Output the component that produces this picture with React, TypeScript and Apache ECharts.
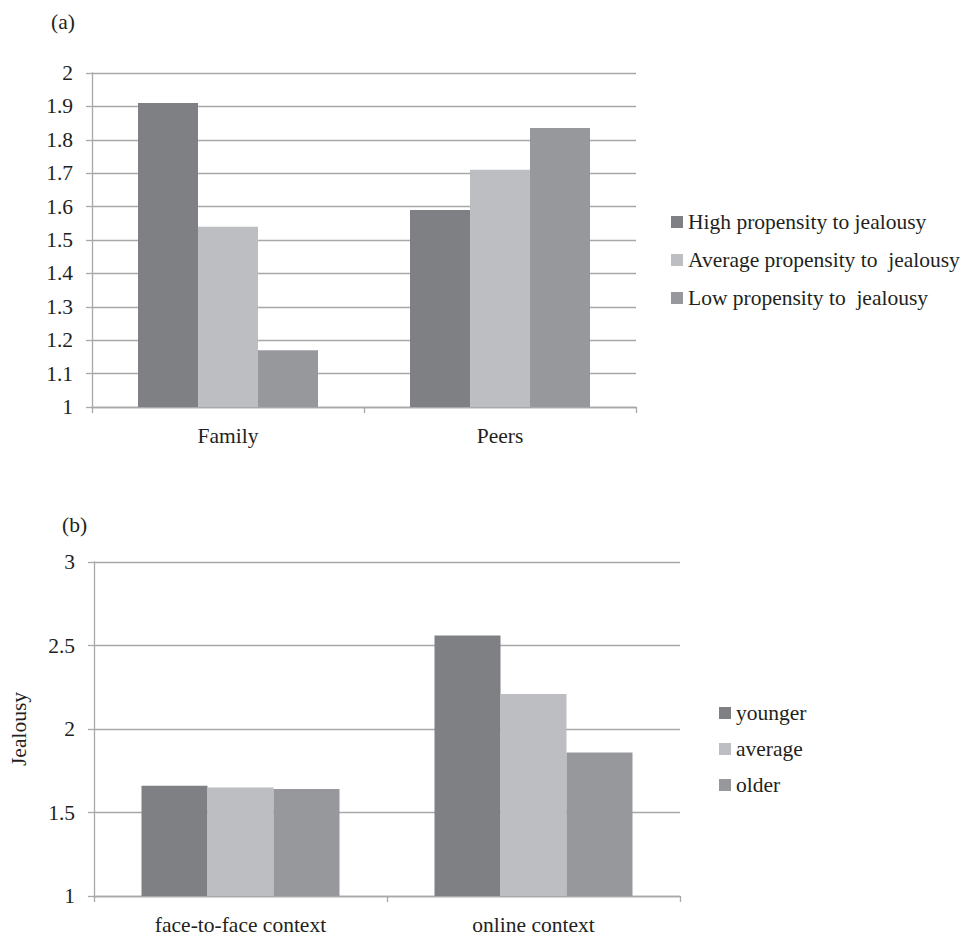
import React, { useEffect, useRef } from "react";
import * as echarts from "echarts";

const catsA = ["Family", "Peers"];
const seriesNamesA = [
  "High propensity to jealousy",
  "Average propensity to  jealousy",
  "Low propensity to  jealousy",
];
const highA = [1.91, 1.59];
const avgA = [1.54, 1.71];
const lowA = [1.17, 1.835];

const catsB = ["face-to-face context", "online context"];
const seriesNamesB = ["younger", "average", "older"];
const youngerB = [1.66, 2.56];
const averageB = [1.65, 2.21];
const olderB = [1.64, 1.86];

const colors = ["#7f8084", "#bdbec2", "#97989c"];
const FONT = "'Liberation Serif', 'Times New Roman', 'DejaVu Serif', serif";
const TXT = "#231f20";
const GRIDC = "#a8a8a8";

export default function App() {
  const ref = useRef<HTMLDivElement>(null);
  useEffect(() => {
    if (!ref.current) return;
    const chart = echarts.init(ref.current, null, { renderer: "svg" });
    const textStyle = { fontFamily: FONT, fontSize: 21.5, color: TXT };
    const fmt = (v: number) => String(Number(v.toFixed(2)));
    const yCommon = {
      type: "value" as const,
      axisLine: { show: true, lineStyle: { color: GRIDC, width: 1.3 } },
      axisTick: { show: true, length: 6, lineStyle: { color: GRIDC, width: 1.3 } },
      splitLine: { show: true, lineStyle: { color: GRIDC, width: 1.3 } },
      axisLabel: { ...textStyle, margin: 19, formatter: fmt },
    };
    const xCommon = {
      type: "category" as const,
      axisLine: { show: true, lineStyle: { color: GRIDC, width: 1.3 } },
      axisTick: { show: true, length: 6, alignWithLabel: false, lineStyle: { color: GRIDC, width: 1.3 } },
      axisLabel: { ...textStyle, margin: 18 },
      splitLine: { show: false },
    };
    const valsA = [highA, avgA, lowA];
    const valsB = [youngerB, averageB, olderB];
    chart.setOption({
      animation: false,
      backgroundColor: "#ffffff",
      textStyle: { fontFamily: FONT },
      title: [
        { text: "(a)", left: 46, top: 6, textStyle: { ...textStyle, fontWeight: "normal" } },
        { text: "(b)", left: 57, top: 509, textStyle: { ...textStyle, fontWeight: "normal" } },
      ],
      grid: [
        { left: 92, top: 73, width: 544, height: 334 },
        { left: 92, top: 562, width: 588, height: 334 },
      ],
      xAxis: [
        { ...xCommon, gridIndex: 0, data: catsA },
        { ...xCommon, gridIndex: 1, data: catsB },
      ],
      yAxis: [
        { ...yCommon, gridIndex: 0, min: 1, max: 2, interval: 0.1 },
        {
          ...yCommon,
          gridIndex: 1,
          min: 1,
          max: 3,
          interval: 0.5,
          name: "Jealousy",
          nameLocation: "middle",
          nameRotate: 90,
          nameGap: 64,
          nameTextStyle: textStyle,
        },
      ],
      legend: [
        {
          orient: "vertical",
          left: 666,
          top: 206,
          itemWidth: 12,
          itemHeight: 12,
          itemGap: 16,
          icon: "rect",
          data: seriesNamesA,
          textStyle: { ...textStyle },
        },
        {
          orient: "vertical",
          left: 714,
          top: 697,
          itemWidth: 12,
          itemHeight: 12,
          itemGap: 14,
          icon: "rect",
          data: seriesNamesB,
          textStyle: { ...textStyle },
        },
      ],
      series: [
        ...seriesNamesA.map((n, i) => ({
          name: n,
          type: "bar",
          xAxisIndex: 0,
          yAxisIndex: 0,
          barWidth: 60,
          barGap: "0%",
          data: valsA[i],
          itemStyle: { color: colors[i] },
        })),
        ...seriesNamesB.map((n, i) => ({
          name: n,
          type: "bar",
          xAxisIndex: 1,
          yAxisIndex: 1,
          barWidth: 66,
          barGap: "0%",
          data: valsB[i],
          itemStyle: { color: colors[i] },
        })),
      ],
    });
    return () => chart.dispose();
  }, []);
  return (
    <div
      ref={ref}
      style={{ position: "fixed", left: 0, top: 0, width: 972, height: 936 }}
    />
  );
}
